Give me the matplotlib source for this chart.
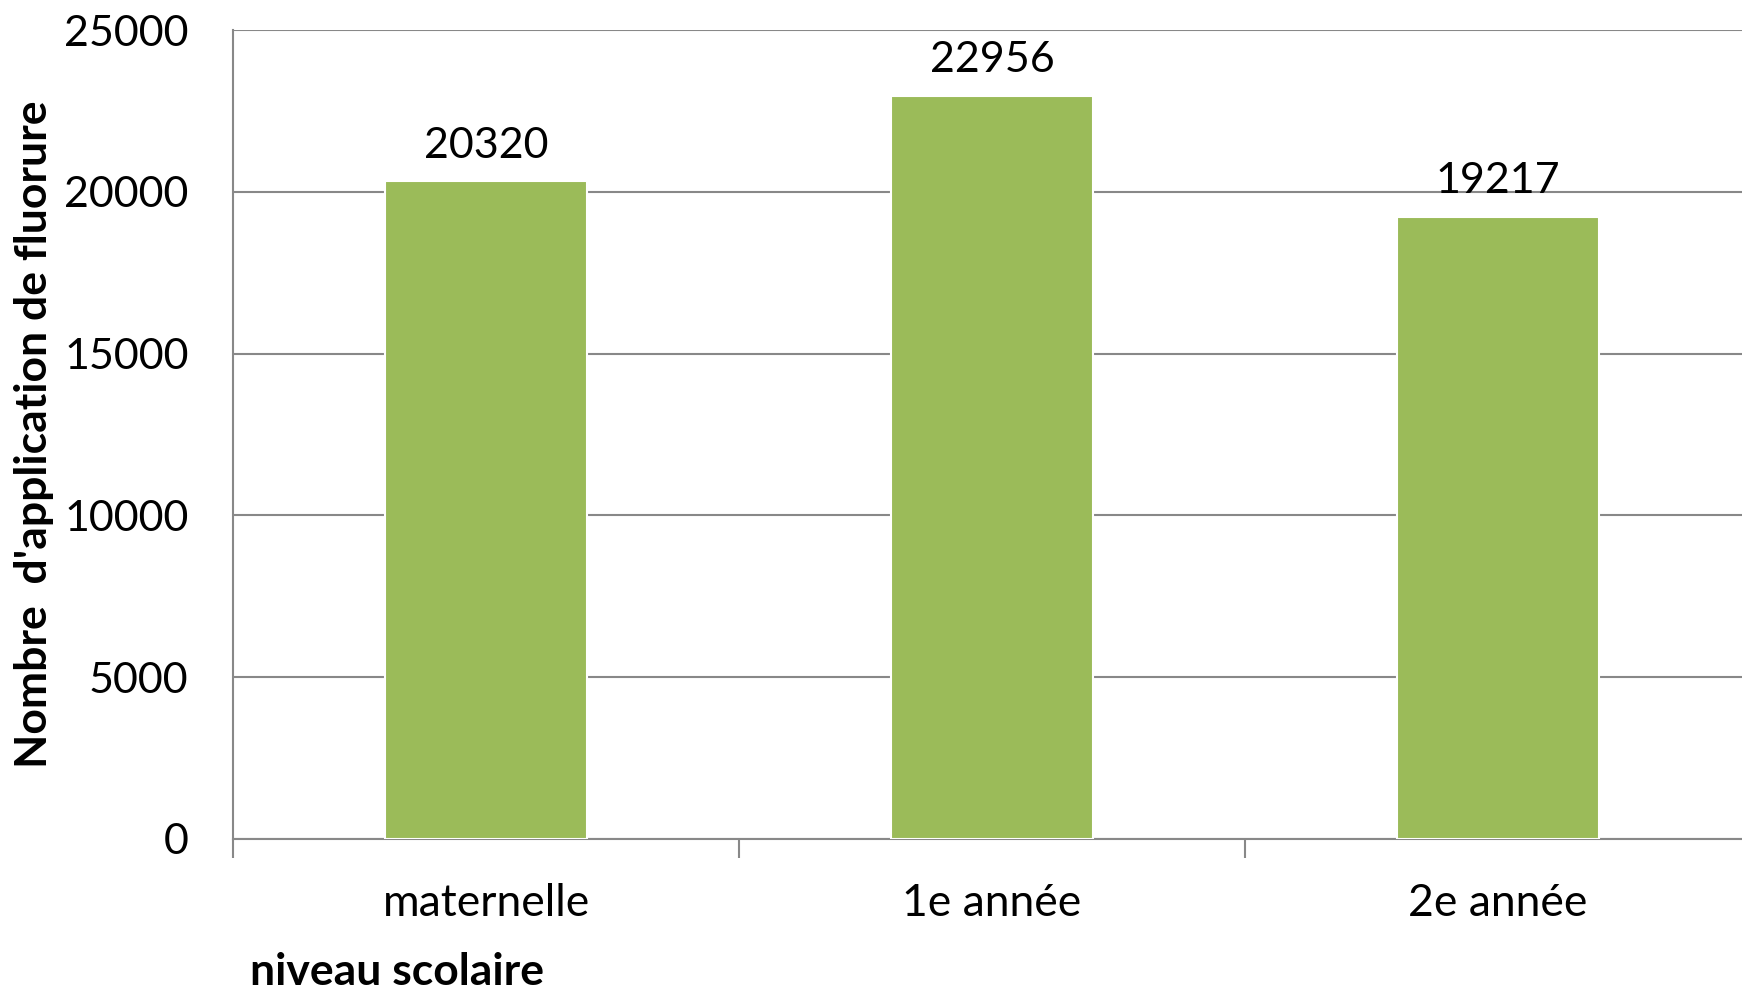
import matplotlib.pyplot as plt

# values
niveaux = ['maternelle', '1e année', '2e année']
applications = [20320, 22956, 19217]
yticks = [0, 5000, 10000, 15000, 20000, 25000]

plt.rcParams['font.family'] = ['Lato', 'DejaVu Sans']

fig = plt.figure(figsize=(17.42, 9.9), dpi=100)
# plot area runs a little past the right edge of the image, like the original
ax = fig.add_axes([233 / 1742, 1 - 839 / 990, 1518 / 1742, (839 - 30) / 990])

x = range(len(niveaux))
bars = ax.bar(x, applications, width=0.4, color='#9BBB59',
              edgecolor='white', linewidth=1.5, zorder=3)

for b, v in zip(bars, applications):
    ax.annotate(str(v), (b.get_x() + b.get_width() / 2, v),
                xytext=(0, 12), textcoords='offset points',
                ha='center', va='bottom', fontsize=31)

ax.set_xlim(-0.5, 2.5)
ax.set_ylim(0, 25000)
ax.set_yticks(yticks)
ax.set_xticks([-0.5, 0.5, 1.5], minor=False)
ax.set_xticklabels([])
ax.set_xticks(list(x), minor=True)
ax.set_xticklabels(niveaux, minor=True)

ax.grid(axis='y', color='#888888', linewidth=1.5, zorder=0)
for s in ['top', 'right']:
    ax.spines[s].set_visible(False)
for s in ['left', 'bottom']:
    ax.spines[s].set_color('#888888')
    ax.spines[s].set_linewidth(1.5)

ax.tick_params(axis='y', length=0, labelsize=31, pad=32)
ax.tick_params(axis='x', which='major', length=14, width=1.5, color='#888888')
ax.tick_params(axis='x', which='minor', length=0, labelsize=32, pad=32)

ax.set_ylabel("Nombre  d'application de fluorure", fontsize=32,
              fontweight='bold', labelpad=7)
fig.text(250 / 1742, 1 - 972 / 990, 'niveau scolaire', fontsize=32,
         fontweight='bold', ha='left', va='center')

fig.savefig('out.png', dpi=100)
